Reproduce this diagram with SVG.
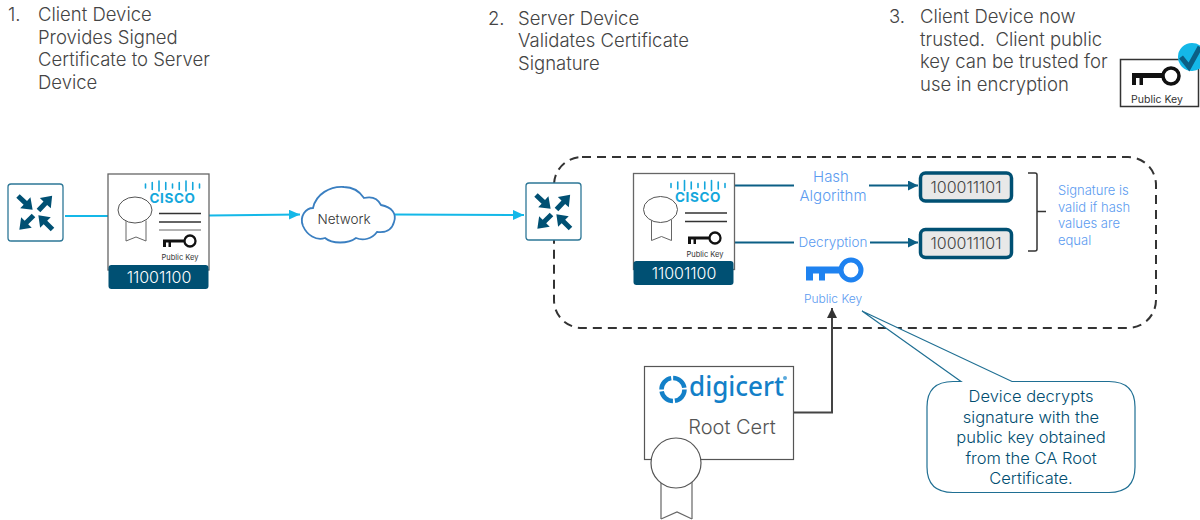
<svg xmlns="http://www.w3.org/2000/svg" width="1200" height="520" viewBox="0 0 1200 520">
<style>
text{font-family:"Inter","Noto Sans","Liberation Sans",sans-serif;}
.h{font-size:18.500px;fill:#444;font-weight:300}
.b{font-size:13.5px;fill:#5b9bf0;font-weight:300}
.c{font-size:16.500px;fill:#004d70;font-weight:300}
.ln{fill:none;stroke:#0b5f85;stroke-width:2}
.cy{fill:none;stroke:#14b8e8;stroke-width:2}
.hb{fill:#e8e8e8;stroke:#005073;stroke-width:3.5}
.hv{font-size:16px;fill:#444;text-anchor:middle;font-weight:300}
.ar{fill:#005073}
</style>
<defs>
<marker id="mc" markerWidth="12" markerHeight="12" refX="11" refY="5" orient="auto" markerUnits="userSpaceOnUse"><path d="M0 0L11 5L0 10Z" fill="#14b8e8"/></marker>
<marker id="md" markerWidth="11" markerHeight="11" refX="10" refY="5" orient="auto" markerUnits="userSpaceOnUse"><path d="M0 0L10 5L0 10Z" fill="#0b5f85"/></marker>
<marker id="mk" markerWidth="12" markerHeight="12" refX="10" refY="5" orient="auto" markerUnits="userSpaceOnUse"><path d="M0 0L10 5L0 10Z" fill="#333"/></marker>
<path id="arw" class="ar" d="M0 -2.500H10V-7.500L20 0L10 7.500V2.500H0Z"/>
<g id="router">
<rect x="0.500" y="0.500" width="55" height="57" rx="3" fill="#fff" stroke="#2d7797" stroke-width="1.300"/>
<use href="#arw" transform="translate(10.500 12.500) rotate(43)"/>
<use href="#arw" transform="translate(31 27) rotate(-47)"/>
<use href="#arw" transform="translate(26 32) rotate(135)"/>
<use href="#arw" transform="translate(45 46) rotate(-135)"/>
</g>
<g id="key">
<circle cx="27" cy="6" r="5.500" fill="none" stroke="#111" stroke-width="2.300"/>
<path d="M0 4.500H21V7.500H8V12H5.500V7.500H3V12H0Z" fill="#111"/>
</g>
<g id="cert">
<rect x="0.500" y="0.500" width="101" height="96" fill="#fff" stroke="#666" stroke-width="1.300"/>
<path d="M38 10.500V14.500M44.750 9V16M51.500 7.500V17.500M58.250 9V16M65 10.500V14.500M71.750 9V16M78.500 7.500V17.500M85.250 9V16M92 10.500V14.500" stroke="#14a7dc" stroke-width="1.600" stroke-linecap="round"/>
<text x="65" y="29" font-size="13.500" font-weight="700" fill="#14a7dc" text-anchor="middle" letter-spacing=".6">CISCO</text>
<path d="M18.500 47V67.500L28.500 63.500L38.500 67.500V47" fill="#fff" stroke="#666" stroke-width="1"/>
<ellipse cx="27.500" cy="36.500" rx="17" ry="13" fill="#fff" stroke="#555" stroke-width="1"/>
</g>
</defs>

<g id="heading-1">
<text class="h" x="8" y="21">1.</text>
<text class="h" x="38" y="21">Client Device</text>
<text class="h" x="38" y="43.500">Provides Signed</text>
<text class="h" x="38" y="66">Certificate to Server</text>
<text class="h" x="38" y="88.500">Device</text>
</g>
<g id="heading-2">
<text class="h" x="488" y="24.500">2.</text>
<text class="h" x="518" y="24.500">Server Device</text>
<text class="h" x="518" y="47">Validates Certificate</text>
<text class="h" x="518" y="69.500">Signature</text>
</g>
<g id="heading-3">
<text class="h" x="889" y="23">3.</text>
<text class="h" x="920" y="23">Client Device now</text>
<text class="h" x="920" y="45.500" xml:space="preserve">trusted.  Client public</text>
<text class="h" x="920" y="68">key can be trusted for</text>
<text class="h" x="920" y="90.500">use in encryption</text>
</g>

<rect id="boundary" x="554" y="157" width="602" height="171" rx="28" fill="none" stroke="#333" stroke-width="2" stroke-dasharray="9 6"/>

<g id="connectors">
<path class="cy" d="M65 216H108"/>
<path class="cy" d="M209 215.500L300 214.500" marker-end="url(#mc)"/>
<path class="cy" d="M395 214.500L524 215" marker-end="url(#mc)"/>
<path class="ln" d="M734 185.500H794"/>
<path class="ln" d="M734 242.500H794"/>
<path class="ln" d="M869 185.500H918" marker-end="url(#md)"/>
<path class="ln" d="M870 242.500H918" marker-end="url(#md)"/>
<path d="M794 412.500H832V308" fill="none" stroke="#444" stroke-width="2" marker-end="url(#mk)"/>
</g>

<g id="router-left"><use href="#router" x="7.500" y="183.500"/></g>
<g id="cert-left">
<use href="#cert" x="107.500" y="173.500"/>
<path d="M159 213.500H201M159 222H201" stroke="#333" stroke-width="1.300"/>
<path d="M159 230H201" stroke="#666" stroke-width="1"/>
<use href="#key" x="163" y="235"/>
<text x="180" y="260" font-size="7.500" fill="#333" text-anchor="middle">Public Key</text>
<rect x="108.500" y="265" width="100" height="24" rx="3" fill="#005073"/>
<text x="159" y="283" font-size="16" font-weight="300" fill="#fff" text-anchor="middle">11001100</text>
</g>
<g id="network">
<path d="M303 226C299 216 306 208 313 208C316 194 330 186 344 187C353 187 360 192 364 198C372 196 378 199 381 205C392 207 397 214 394 222C392 230 385 233 377 232C372 239 363 241 356 238C348 244 332 244 325 238C316 241 307 235 303 226Z" fill="#fff" stroke="#3a7fc1" stroke-width="1.800"/>
<text x="344" y="224" font-size="13.500" font-weight="300" fill="#333" text-anchor="middle">Network</text>
</g>
<g id="router-right"><use href="#router" x="525.500" y="182.500"/></g>
<g id="cert-right">
<use href="#cert" x="633" y="173"/>
<path d="M685 213H727M685 221.500H727" stroke="#333" stroke-width="1.300"/>
<use href="#key" x="688" y="232"/>
<text x="705" y="257" font-size="7.500" fill="#333" text-anchor="middle">Public Key</text>
<rect x="633.500" y="261" width="100" height="24" rx="3" fill="#005073"/>
<text x="684" y="279" font-size="16" font-weight="300" fill="#fff" text-anchor="middle">11001100</text>
</g>
<g id="hash">
<text class="b" x="831" y="182" text-anchor="middle" style="font-size:15px">Hash</text>
<text class="b" x="833" y="201" text-anchor="middle" style="font-size:15px">Algorithm</text>
</g>
<g id="decryption"><text class="b" x="833" y="247" text-anchor="middle">Decryption</text></g>
<g id="public-key-blue">
<circle cx="851" cy="270" r="10" fill="none" stroke="#1e82f0" stroke-width="5"/>
<path d="M806 266.500H842V273.500H825V280.500H819V273.500H813V280.500H806Z" fill="#1e82f0"/>
<text class="b" x="833" y="303" text-anchor="middle" style="font-size:12px">Public Key</text>
</g>
<g id="hash-1"><rect x="920.500" y="173" width="91" height="28" rx="5" class="hb"/><text class="hv" x="966" y="193">100011101</text></g>
<g id="hash-2"><rect x="920.500" y="229.500" width="91" height="28" rx="5" class="hb"/><text class="hv" x="966" y="249">100011101</text></g>
<g id="brace"><path d="M1028 173H1035Q1037 173 1037 175V211.500H1046M1037 211.500V249Q1037 251 1035 251H1028" fill="none" stroke="#333" stroke-width="1.500"/></g>
<g id="signature-note">
<text class="b" x="1058" y="195" style="font-size:13px">Signature is</text>
<text class="b" x="1058" y="212" style="font-size:13px">valid if hash</text>
<text class="b" x="1058" y="228" style="font-size:13px">values are</text>
<text class="b" x="1058" y="245" style="font-size:13px">equal</text>
</g>
<g id="root-cert">
<rect x="644.500" y="366.500" width="149" height="93" fill="#fff" stroke="#555" stroke-width="1.200"/>
<circle cx="673" cy="389.500" r="11.500" fill="none" stroke="#1380c8" stroke-width="4.500" stroke-dasharray="16 2"/>
<text x="689" y="396" font-size="27" font-weight="500" fill="#1380c8" style="font-family:'Noto Sans',sans-serif" textLength="95" lengthAdjust="spacingAndGlyphs">digicert</text>
<circle cx="785" cy="378" r="2" fill="#5aa9dc"/>
<text x="732" y="434" font-size="20" font-weight="300" fill="#555" text-anchor="middle">Root Cert</text>
<path d="M661 480V519M692 480V519" stroke="#666" stroke-width="1.200"/>
<path d="M661 519L677 512L692 519" fill="none" stroke="#666" stroke-width="1.200"/>
<circle cx="676" cy="463" r="25" fill="#fff" stroke="#555" stroke-width="1.200"/>
</g>
<g id="callout">
<path d="M961 381.500L862 311L1012 381.500H1109Q1135 381.500 1135 407V467Q1135 492.500 1109 492.500H953Q927 492.500 927 467V407Q927 381.500 953 381.500Z" fill="#fff" stroke="#1f6f93" stroke-width="1.200"/>
<text class="c" x="1031" y="402" text-anchor="middle">Device decrypts</text>
<text class="c" x="1031" y="423" text-anchor="middle">signature with the</text>
<text class="c" x="1031" y="443" text-anchor="middle">public key obtained</text>
<text class="c" x="1031" y="464" text-anchor="middle">from the CA Root</text>
<text class="c" x="1031" y="484" text-anchor="middle">Certificate.</text>
</g>
<g id="trusted-key">
<rect x="1120.500" y="59.500" width="78" height="47" fill="#fff" stroke="#333" stroke-width="1.500"/>
<circle cx="1171" cy="76" r="8" fill="none" stroke="#111" stroke-width="3.500"/>
<path d="M1132 73H1163V78H1143V85H1139.500V78H1136V85H1132Z" fill="#111"/>
<text x="1157" y="103" font-size="10.500" fill="#333" text-anchor="middle">Public Key</text>
<circle cx="1192" cy="57" r="14" fill="#14b8e8"/>
<path d="M1181 57L1189 67L1200 47" fill="none" stroke="#0b5f85" stroke-width="5"/>
</g>
</svg>
